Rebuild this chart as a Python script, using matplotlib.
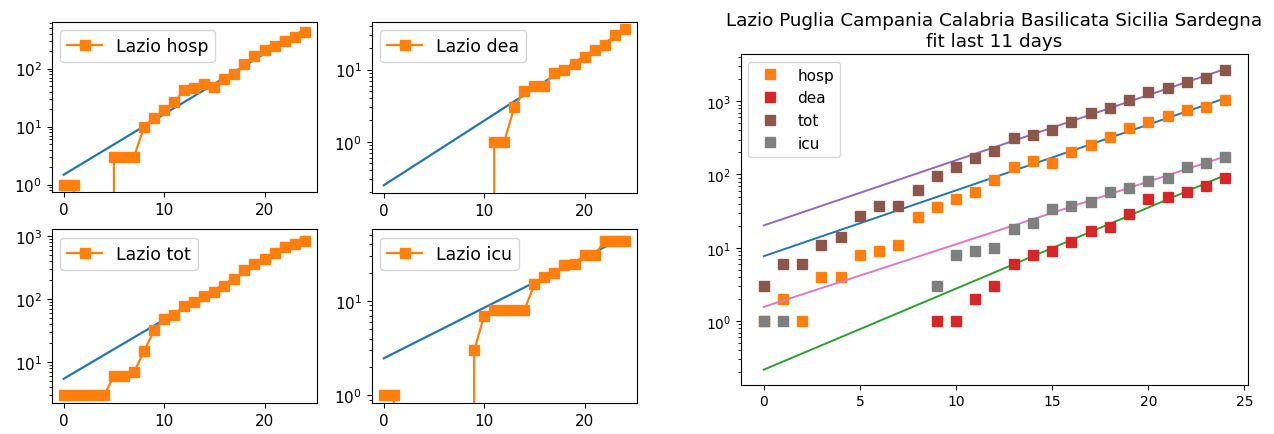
import numpy as np
import matplotlib
matplotlib.use("Agg")
import matplotlib.pyplot as plt

# giorni dall'inizio
days = np.arange(25)

# Lazio
lazio_hosp = [1, 1, 0, 0, 0, 3, 3, 3, 10, 14, 19, 26, 43, 46, 54, 49, 67, 80, 121, 163, 206, 246, 293, 343, 420]
lazio_dea = [0, 0, 0, 0, 0, 0, 0, 0, 0, 0, 0, 1, 1, 3, 5, 6, 6, 9, 10, 12, 15, 19, 22, 30, 36]
lazio_tot = [3, 3, 3, 3, 3, 6, 6, 7, 15, 32, 48, 56, 79, 90, 110, 128, 160, 208, 285, 360, 434, 535, 660, 745, 835]
lazio_icu = [1, 1, 0, 0, 0, 0, 0, 0, 0, 3, 7, 8, 8, 8, 8, 15, 18, 20, 24, 25, 31, 31, 43, 43, 43]

# somma delle regioni
sum_hosp = [1, 2, 1, 4, 4, 8, 9, 11, 26, 36, 46, 57, 83, 126, 151, 145, 202, 256, 322, 428, 516, 620, 755, 820, 1030]
sum_dea = [0, 0, 0, 0, 0, 0, 0, 0, 0, 1, 1, 2, 3, 6, 8, 9, 12, 17, 19, 29, 47, 49, 57, 69, 91]
sum_tot = [3, 6, 6, 11, 14, 27, 37, 37, 61, 96, 126, 168, 210, 310, 350, 408, 516, 681, 813, 1050, 1320, 1510, 1830, 2100, 2630]
sum_icu = [1, 1, 0, 0, 0, 0, 0, 0, 0, 3, 8, 9, 10, 18, 22, 34, 37, 42, 57, 65, 82, 90, 126, 143, 174]

regioni = ["Lazio", "Puglia", "Campania", "Calabria", "Basilicata", "Sicilia", "Sardegna"]
campi = ["hosp", "dea", "tot", "icu"]
fit_small = 10
fit_big = 11


def fit_exp(x, y, n):
    # fit lineare del log sugli ultimi n giorni
    p = np.polyfit(x[-n:], np.log(np.array(y[-n:], dtype=float)), 1)
    return np.exp(np.polyval(p, x))


dpi = 100
fig = plt.figure(figsize=(1274 / dpi, 435 / dpi), dpi=dpi)

posizioni = [
    [0.0406, 0.5556, 0.2080, 0.3922],
    [0.2918, 0.5540, 0.2080, 0.3938],
    [0.0406, 0.0706, 0.2080, 0.4007],
    [0.2918, 0.0706, 0.2080, 0.4007],
]
lazio = [lazio_hosp, lazio_dea, lazio_tot, lazio_icu]
for pos, nome, y in zip(posizioni, campi, lazio):
    ax = fig.add_axes(pos)
    ax.plot(days, fit_exp(days, y, fit_small), lw=1.6)
    ax.plot(days, y, "s-", ms=6.5, lw=1.6, label="Lazio " + nome)
    ax.set_yscale("log")
    ax.tick_params(labelsize=11)
    ax.legend(loc="upper left", fontsize=12.5)

ax = fig.add_axes([0.5814, 0.1133, 0.3984, 0.7603])
for nome, y in zip(campi, [sum_hosp, sum_dea, sum_tot, sum_icu]):
    ax.plot(days, fit_exp(days, y, fit_big), lw=1.4)
    ax.plot(days, y, "s", ms=6.5, label=nome)
ax.set_yscale("log")
ax.legend(loc="upper left", fontsize=11)
ax.set_title(" ".join(regioni) + "\nfit last %d days" % fit_big, fontsize=13.2)

fig.savefig("out.png", dpi=dpi)
